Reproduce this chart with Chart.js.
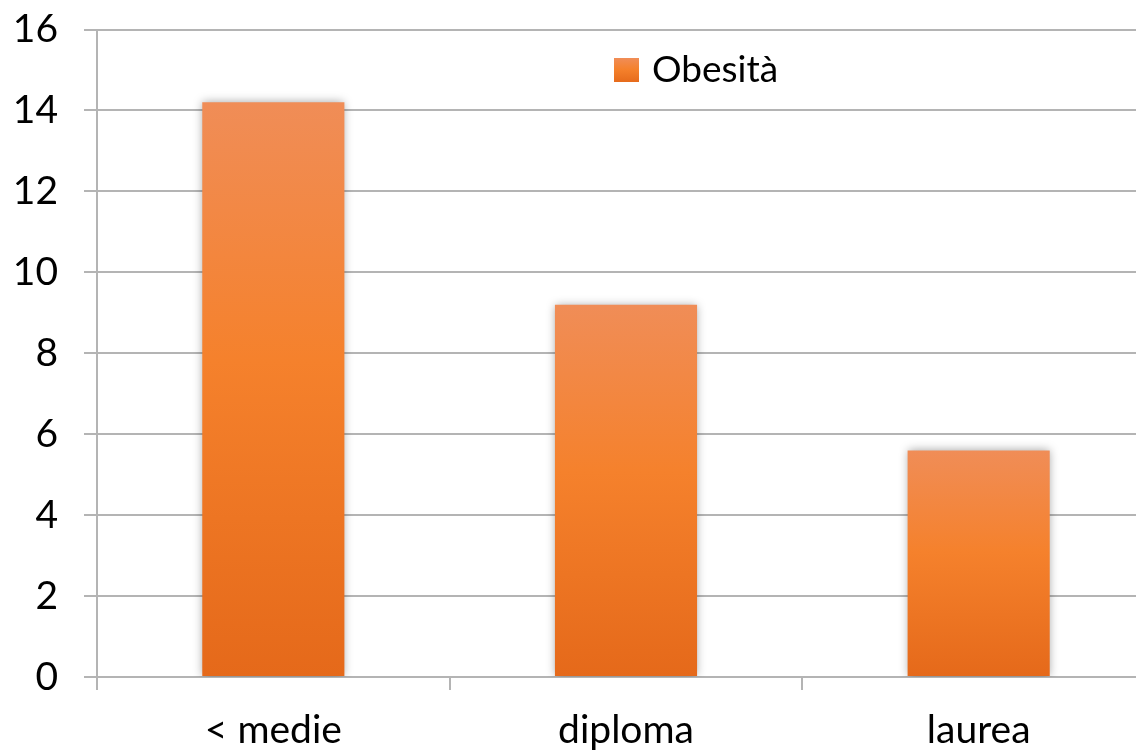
<!DOCTYPE html>
<html lang="it">
<head>
  <meta charset="UTF-8" />
  <title>Obesità per titolo di studio</title>
  <script src="https://cdn.jsdelivr.net/npm/chart.js"></script>
  <style>
    html, body {
      margin: 0;
      padding: 0;
      background: #ffffff;
      overflow: hidden;
    }

    .chart-wrap {
      width: 1155px;
      height: 753px;
    }
  </style>
</head>
<body>
  <div class="chart-wrap">
    <canvas id="obesityChart"></canvas>
  </div>

  <script>
    const categories = ['< medie', 'diploma', 'laurea'];
    const obesita = [14.2, 9.2, 5.6];
    const seriesLabel = 'Obesità';
    const yMin = 0;
    const yMax = 16;
    const yStep = 2;

    const gridColor = '#b4b4b4';
    const axisFont = { family: 'Lato', size: 39 };
    const legendFont = { family: 'Lato', size: 37 };

    // vertical orange gradient, one per bar (light top, darker base)
    function barGradient(ctx, top, bottom) {
      const g = ctx.createLinearGradient(0, top, 0, bottom);
      g.addColorStop(0, '#f08d57');
      g.addColorStop(0.45, '#f5812c');
      g.addColorStop(1, '#e5691a');
      return g;
    }

    // soft grey shadow around the bars
    const barShadow = {
      id: 'barShadow',
      beforeDatasetsDraw(chart) {
        const ctx = chart.ctx;
        ctx.save();
        ctx.shadowColor = 'rgba(0,0,0,0.35)';
        ctx.shadowBlur = 9;
        ctx.shadowOffsetX = 0;
        ctx.shadowOffsetY = 0;
      },
      afterDatasetsDraw(chart) {
        chart.ctx.restore();
      }
    };

    // legend drawn inside the plot area, upper right of centre
    const innerLegend = {
      id: 'innerLegend',
      afterDraw(chart) {
        const ctx = chart.ctx;
        const x = 614, y = 58, size = 25;
        ctx.save();
        ctx.fillStyle = barGradient(ctx, y, y + size);
        ctx.fillRect(x, y, size, size - 1);
        ctx.fillStyle = '#000000';
        ctx.font = legendFont.size + 'px ' + legendFont.family;
        ctx.textBaseline = 'middle';
        ctx.textAlign = 'left';
        ctx.fillText(chart.data.datasets[0].label, x + 38, y + 12);
        ctx.restore();
      }
    };

    new Chart(document.getElementById('obesityChart'), {
      type: 'bar',
      data: {
        labels: categories,
        datasets: [{
          label: seriesLabel,
          data: obesita,
          backgroundColor(context) {
            const chart = context.chart;
            if (!chart.chartArea || context.parsed === undefined) return '#f5812c';
            const y = chart.scales.y;
            return barGradient(chart.ctx, y.getPixelForValue(context.parsed.y), y.getPixelForValue(0));
          },
          borderWidth: 0,
          categoryPercentage: 1,
          barPercentage: 0.403
        }]
      },
      options: {
        responsive: true,
        maintainAspectRatio: false,
        animation: false,
        layout: { padding: { top: 29.5, right: 0, bottom: 0, left: 0 } },
        plugins: {
          legend: { display: false },
          tooltip: { enabled: false }
        },
        scales: {
          x: {
            grid: {
              offset: true,
              drawOnChartArea: false,
              drawTicks: true,
              tickLength: 13,
              color: gridColor,
              lineWidth: 2
            },
            border: { color: gridColor, width: 2 },
            ticks: { color: '#000000', font: axisFont, padding: 17 },
            afterFit(scale) { scale.height = 76; }
          },
          y: {
            min: yMin,
            max: yMax,
            grid: {
              color: gridColor,
              lineWidth: 2,
              tickLength: 13
            },
            border: { color: gridColor, width: 2 },
            ticks: { stepSize: yStep, color: '#000000', font: axisFont, padding: 26 },
            afterFit(scale) {
              scale.width = 97;
              scale.paddingTop = 0;
              scale.paddingBottom = 0;
            }
          }
        }
      },
      plugins: [barShadow, innerLegend]
    });
  </script>
</body>
</html>
